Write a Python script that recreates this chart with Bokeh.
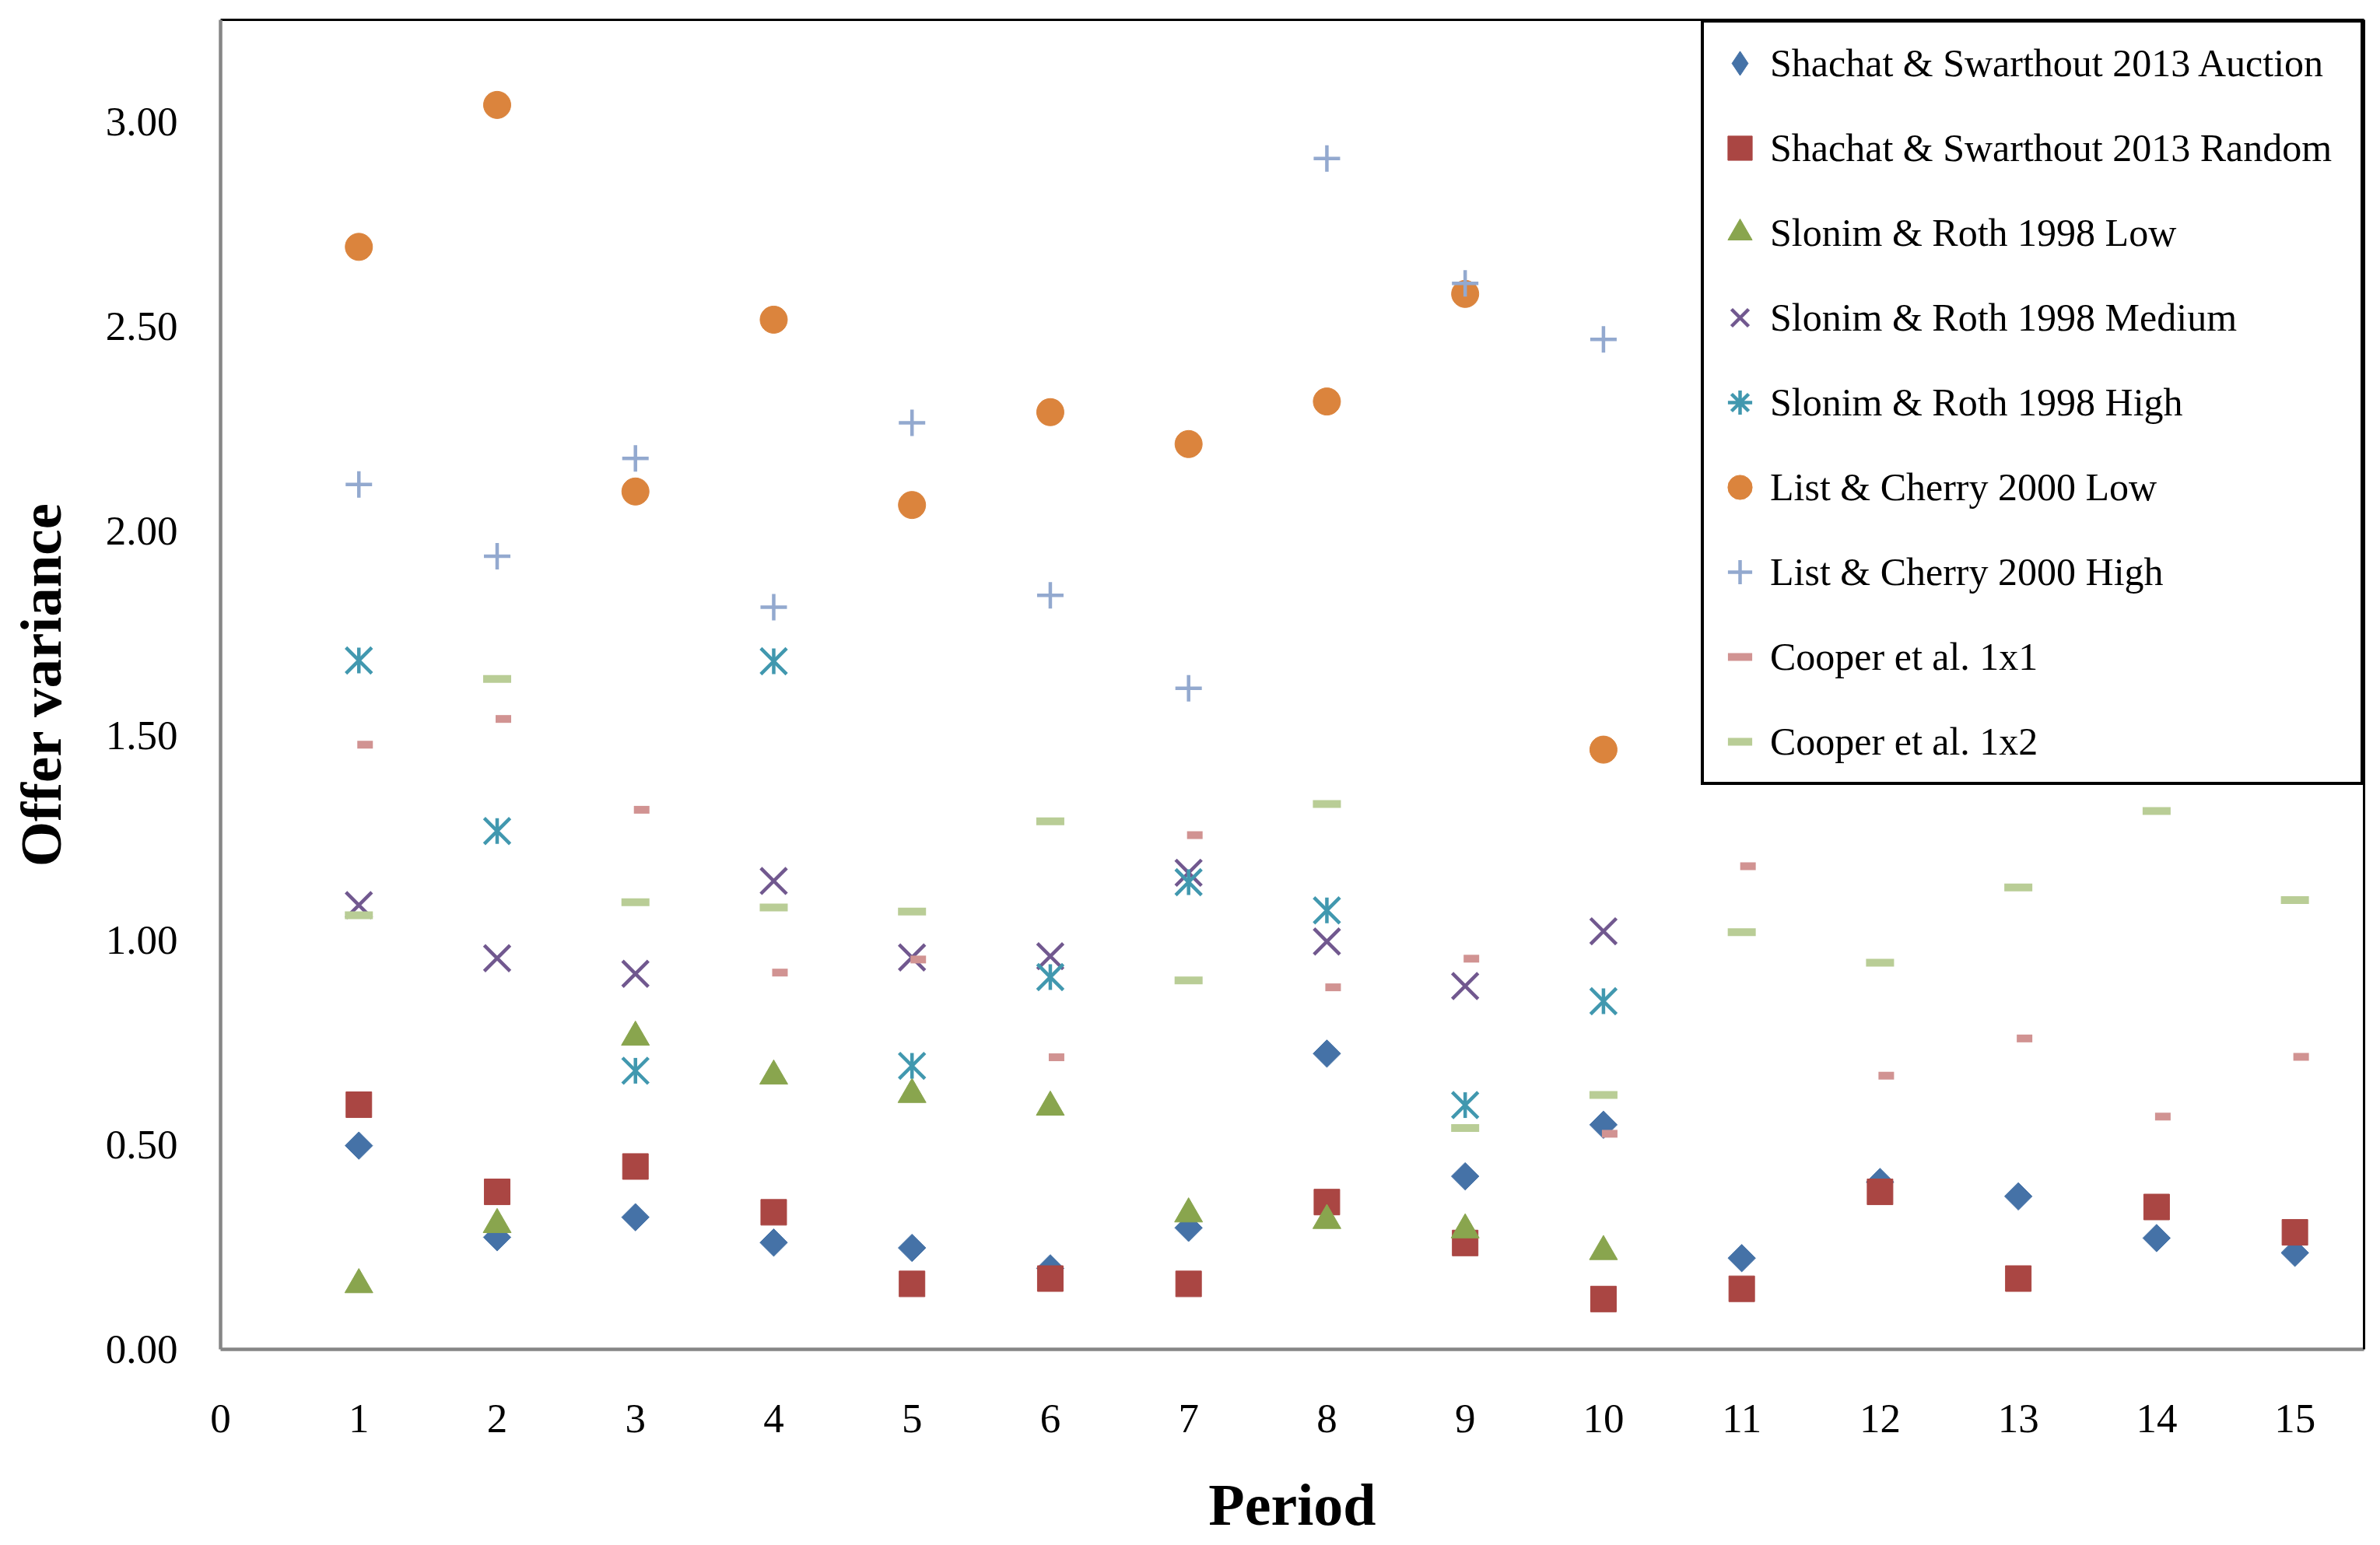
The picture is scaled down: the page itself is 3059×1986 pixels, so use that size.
import numpy as np
from bokeh.plotting import figure
from bokeh.models import (Range1d, FixedTicker, NumeralTickFormatter, LinearAxis,
                          Legend, LegendItem, ColumnDataSource)
from bokeh.transform import dodge
from bokeh.embed import file_html
from bokeh.resources import INLINE

# ---------------- data ----------------
periods15 = list(range(1, 16))
periods10 = list(range(1, 11))

ss_auction = [0.498, 0.274, 0.323, 0.261, 0.248, 0.198, 0.297, 0.723, 0.423, 0.549,
              0.223, 0.409, 0.374, 0.272, 0.236]
ss_random = [0.598, 0.385, 0.447, 0.335, 0.160, 0.173, 0.160, 0.360, 0.260, 0.123,
             0.148, 0.385, 0.173, 0.348, 0.286]
sr_low = [0.168, 0.315, 0.773, 0.678, 0.633, 0.602, 0.341, 0.325, 0.302, 0.249]
sr_medium = [1.086, 0.956, 0.918, 1.145, 0.958, 0.961, 1.165, 0.997, 0.888, 1.022]
sr_high = [1.684, 1.267, 0.681, 1.682, 0.693, 0.910, 1.142, 1.073, 0.597, 0.851]
lc_low = [2.695, 3.042, 2.097, 2.517, 2.064, 2.291, 2.213, 2.317, 2.580, 1.466]
lc_high = [2.114, 1.939, 2.178, 1.814, 2.265, 1.843, 1.616, 2.911, 2.606, 2.469]
cooper_1x1 = [1.478, 1.541, 1.319, 0.921, 0.953, 0.714, 1.257, 0.885, 0.955, 0.527,
              1.181, 0.669, 0.760, 0.569, 0.715]
cooper_1x2 = [1.061, 1.639, 1.093, 1.080, 1.070, 1.291, 0.902, 1.333, 0.541, 0.622,
              1.020, 0.945, 1.129, 1.316, 1.098]

labels = ["Shachat & Swarthout 2013 Auction", "Shachat & Swarthout 2013 Random",
          "Slonim & Roth 1998 Low", "Slonim & Roth 1998 Medium", "Slonim & Roth 1998 High",
          "List & Cherry 2000 Low", "List & Cherry 2000 High",
          "Cooper et al. 1x1", "Cooper et al. 1x2"]
x_ticks = list(range(0, 16))
y_ticks = [0.0, 0.5, 1.0, 1.5, 2.0, 2.5, 3.0]

# ---------------- styles ----------------
FONT = "Liberation Serif"
C_BLUE = "#4572A7"
C_RED = "#AA4643"
C_GREEN = "#89A54E"
C_PURPLE = "#71588F"
C_TEAL = "#4198AF"
C_ORANGE = "#DB843D"
C_LBLUE = "#93A9CF"
C_PINK = "#D19392"
C_LGREEN = "#B9CD96"
LW = 4.5

p = figure(frame_width=2755, frame_height=1709,
           min_border_left=283, min_border_right=5, min_border_top=25, min_border_bottom=250,
           x_range=Range1d(0, 15.5), y_range=Range1d(0, 3.25),
           output_backend="svg", toolbar_location=None,
           background_fill_color="white", border_fill_color="white")
p.outline_line_color = None
p.xgrid.visible = False
p.ygrid.visible = False

# axes
for ax in (p.xaxis[0], p.yaxis[0]):
    ax.axis_line_color = "#868686"
    ax.axis_line_width = 4.5
    ax.major_tick_line_color = None
    ax.minor_tick_line_color = None
    ax.major_tick_out = 0
    ax.major_tick_in = 0
    ax.minor_tick_out = 0
    ax.major_label_text_font = FONT
    ax.major_label_text_font_size = "53px"
    ax.major_label_text_color = "black"
    ax.axis_label_text_font = FONT
    ax.axis_label_text_font_style = "bold"
    ax.axis_label_text_color = "black"

p.xaxis.ticker = FixedTicker(ticks=x_ticks)
p.yaxis.ticker = FixedTicker(ticks=y_ticks)
p.yaxis.formatter = NumeralTickFormatter(format="0.00")
p.xaxis.axis_label = "Period"
p.yaxis.axis_label = "Offer variance"
p.xaxis.axis_label_text_font_size = "76px"
p.yaxis.axis_label_text_font_size = "75px"
p.xaxis.major_label_standoff = 71
p.xaxis.axis_label_standoff = 48
p.yaxis.major_label_standoff = 55
p.yaxis.axis_label_standoff = 39

# top/right black frame lines
for side in ("above", "right"):
    a = LinearAxis(ticker=FixedTicker(ticks=[]), axis_line_color="black", axis_line_width=3,
                   major_tick_line_color=None, minor_tick_line_color=None,
                   major_tick_out=0, minor_tick_out=0, major_label_standoff=0)
    p.add_layout(a, side)

# ---------------- series ----------------
nan_src = ColumnDataSource(dict(x=[float("nan")], y=[float("nan")]))
low_src = ColumnDataSource(dict(x=periods10, y=sr_low))
c11_src = ColumnDataSource(dict(x=periods15, y=cooper_1x1))

r_auction = p.scatter(periods15, ss_auction, marker="square", angle=np.pi / 4, size=25,
                      fill_color=C_BLUE, line_color=C_BLUE, line_width=1)
leg_auction = p.scatter("x", "y", source=nan_src, marker="diamond", size=30,
                        fill_color=C_BLUE, line_color=C_BLUE)

r_random = p.scatter(periods15, ss_random, marker="square", size=33,
                     fill_color=C_RED, line_color=C_RED, line_width=1)

# triangle anchored on its bounding-box centre (as in the original chart)
r_low = p.scatter("x", dodge("y", -0.0099, range=p.y_range), source=low_src,
                  marker="triangle", size=36,
                  fill_color=C_GREEN, line_color=C_GREEN, line_width=1)

r_med = p.scatter(periods10, sr_medium, marker="x", size=47,
                  line_color=C_PURPLE, line_width=LW)

r_high_x = p.scatter(periods10, sr_high, marker="x", size=47,
                     line_color=C_TEAL, line_width=LW)
r_high_v = p.scatter(periods10, sr_high, marker="dash", angle=np.pi / 2, size=33,
                     line_color=C_TEAL, line_width=LW)
leg_high = p.scatter("x", "y", source=nan_src, marker="asterisk", size=30,
                     line_color=C_TEAL, line_width=LW)

r_lclow = p.scatter(periods10, lc_low, marker="circle", size=35,
                    fill_color=C_ORANGE, line_color=C_ORANGE, line_width=1)

r_lchigh = p.scatter(periods10, lc_high, marker="cross", size=34,
                     line_color=C_LBLUE, line_width=LW)

# short dash sits slightly right of the category position in the original
r_c11 = p.scatter(dodge("x", 0.045, range=p.x_range), "y", source=c11_src,
                  marker="dash", size=20, line_color=C_PINK, line_width=10)

r_c12 = p.scatter(periods15, cooper_1x2, marker="dash", size=36,
                  line_color=C_LGREEN, line_width=10)

items = [
    LegendItem(label=labels[0], renderers=[leg_auction]),
    LegendItem(label=labels[1], renderers=[r_random]),
    LegendItem(label=labels[2], renderers=[r_low]),
    LegendItem(label=labels[3], renderers=[r_med]),
    LegendItem(label=labels[4], renderers=[leg_high]),
    LegendItem(label=labels[5], renderers=[r_lclow]),
    LegendItem(label=labels[6], renderers=[r_lchigh]),
    LegendItem(label=labels[7], renderers=[r_c11]),
    LegendItem(label=labels[8], renderers=[r_c12]),
]
legend = Legend(items=items, location="top_right", margin=0, padding=7,
                glyph_width=78, glyph_height=90, label_height=90, label_width=752,
                label_standoff=0, spacing=19,
                label_text_font=FONT, label_text_font_size="50px", label_text_color="black",
                border_line_color="black", border_line_width=4, border_line_alpha=1.0,
                background_fill_color="white", background_fill_alpha=1.0)
p.add_layout(legend)

open("out.html", "w").write(file_html(p, INLINE))
